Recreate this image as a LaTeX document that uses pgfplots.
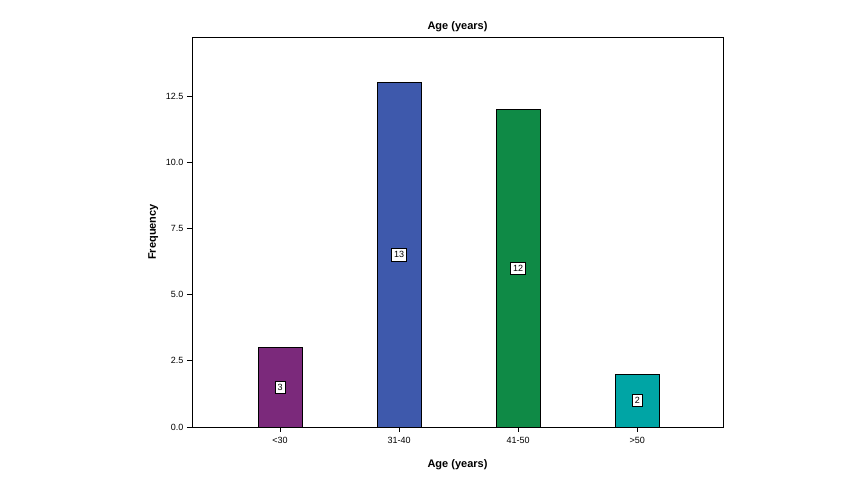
\documentclass[border=0pt]{standalone}
\usepackage{pgfplots}
\pgfplotsset{compat=1.18}
\usetikzlibrary{calc}
\usepackage{fontspec}
\setmainfont{Liberation Sans}
\definecolor{cA}{RGB}{123,41,123}
\definecolor{cB}{RGB}{62,89,172}
\definecolor{cC}{RGB}{15,138,70}
\definecolor{cD}{RGB}{0,165,165}
\begin{document}
\begin{tikzpicture}
\begin{axis}[name=ax,
  scale only axis, width=531pt, height=390pt,
  xmin=-0.74, xmax=3.72, ymin=0, ymax=14.73,
  xtick={0,1,2,3}, xticklabels={<30,31-40,41-50,>50},
  ytick={0,2.5,5,7.5,10,12.5},
  yticklabel style={/pgf/number format/.cd,fixed,fixed zerofill,precision=1},
  /pgf/number format/assume math mode=true,
  tick label style={font=\fontsize{9}{10}\selectfont},
  xticklabel style={yshift=-2pt},
  tick align=outside, tick pos=left, major tick length=5pt,
  tick style={black, line width=0.8pt},
  axis line style={line width=0.8pt},
  title={\textbf{Age (years)}}, title style={font=\fontsize{11}{12}\selectfont, yshift=-4pt},
  xlabel={\textbf{Age (years)}}, ylabel={\textbf{Frequency}},
  label style={font=\fontsize{11}{12}\selectfont},
  xlabel style={yshift=-9pt},
  ylabel style={yshift=1pt},
  bar width=44pt,
  clip=false,
]
\addplot[ybar, bar shift=0pt, fill=cA, draw=black, line width=0.6pt] coordinates {(0,3)};
\addplot[ybar, bar shift=0pt, fill=cB, draw=black, line width=0.6pt] coordinates {(1,13)};
\addplot[ybar, bar shift=0pt, fill=cC, draw=black, line width=0.6pt] coordinates {(2,12)};
\addplot[ybar, bar shift=0pt, fill=cD, draw=black, line width=0.6pt] coordinates {(3,2)};
\addplot[draw=none, mark=none, point meta=explicit symbolic,
  nodes near coords,
  nodes near coords style={fill=white, draw=black, line width=0.5pt, inner xsep=2.5pt, inner ysep=3pt, font=\fontsize{9}{10}\selectfont, anchor=center}]
  coordinates {(0,1.5)[3] (1,6.5)[13] (2,6)[12] (3,1)[2]};
\end{axis}
\path ($(ax.south west)+(-192pt,-73pt)$) rectangle ($(ax.north east)+(134pt,37pt)$);
\end{tikzpicture}
\end{document}
